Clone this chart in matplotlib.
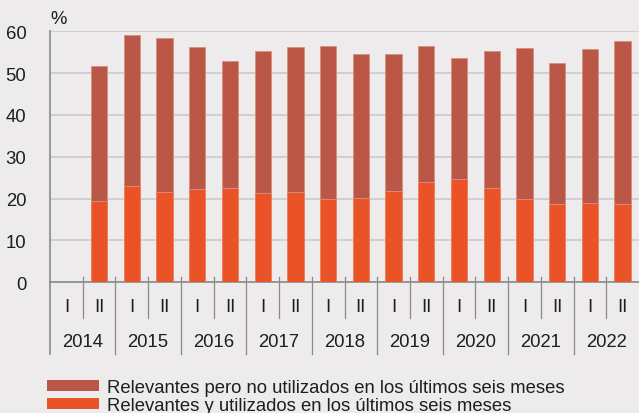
import numpy as np
import matplotlib

matplotlib.use("Agg")
import matplotlib.pyplot as plt
from matplotlib.patches import Patch

plt.rcParams["font.family"] = ["Liberation Sans", "DejaVu Sans"]

# half-year survey waves, 2014 I .. 2022 II
years = ["2014", "2015", "2016", "2017", "2018", "2019", "2020", "2021", "2022"]
halves = ["I", "II"]
# share relevant and used (lower part), % ; 2014 I has no data
used = [np.nan, 19.5, 23.0, 21.7, 22.2, 22.6, 21.3, 21.5, 20.0,
        20.1, 21.8, 23.9, 24.6, 22.5, 19.9, 18.7, 18.9, 18.7]
# total share considered relevant, %
total = [np.nan, 51.6, 59.2, 58.3, 56.2, 52.9, 55.4, 56.2, 56.4,
         54.6, 54.6, 56.6, 53.7, 55.2, 55.9, 52.5, 55.8, 57.8]
lbl_not_used = "Relevantes pero no utilizados en los últimos seis meses"
lbl_used = "Relevantes y utilizados en los últimos seis meses"

BG = "#edebec"
C_UPPER = "#ba5746"
C_LOWER = "#ea5328"
AXC = "#8a8a8a"
TXT = "#1e1e1e"
FS = 13.3

used = np.array(used)
total = np.array(total)
not_used = total - used
n = len(used)
x = np.arange(n) + 0.5

fig = plt.figure(figsize=(6.39, 4.14), dpi=100, facecolor=BG)
ax = fig.add_axes([50 / 639, 1 - 283.3 / 414, 589 / 639, 251 / 414])
ax.set_facecolor(BG)

ax.bar(x, used, width=0.5, color=C_LOWER, edgecolor="#f07a5a", linewidth=0.6, zorder=3)
ax.bar(x, not_used, bottom=used, width=0.5, color=C_UPPER, edgecolor="#d98d80",
       linewidth=0.6, zorder=3)

ax.set_xlim(0, n)
ax.set_ylim(0, 60)
ax.set_yticks(np.arange(0, 61, 10))
ax.tick_params(axis="y", length=0, pad=17, labelsize=FS, labelcolor=TXT)
ax.set_xticks([])
ax.grid(axis="y", color="#c9c7c8", linewidth=1.1, zorder=0)
ax.set_axisbelow(True)
for s in ("top", "right"):
    ax.spines[s].set_visible(False)
for s in ("left", "bottom"):
    ax.spines[s].set_color(AXC)
    ax.spines[s].set_linewidth(1.2)
ax.spines["bottom"].set_zorder(2)

# two-level category axis: half-year dividers and year dividers
tr = ax.get_xaxis_transform()
for b in range(0, n + 1):
    y_low = -0.286 if b % 2 == 0 else -0.142
    if b == 0:
        ax.plot([b, b], [0, y_low], transform=tr, color=AXC, lw=1.2, clip_on=False)
    elif b < n:
        ax.plot([b, b], [0.021, y_low], transform=tr, color=AXC, lw=0.9, clip_on=False)
for i in range(n):
    ax.text(x[i], -0.098, halves[i % 2], transform=tr, ha="center", va="center",
            fontsize=FS, color=TXT)
for k, yr in enumerate(years):
    ax.text(2 * k + 1, -0.234, yr, transform=tr, ha="center", va="center",
            fontsize=FS, color=TXT)

ax.text(0, 1.05, "%", transform=ax.transAxes, ha="left", va="center",
        fontsize=FS, color=TXT)

handles = [Patch(facecolor=C_UPPER, edgecolor="none"),
           Patch(facecolor=C_LOWER, edgecolor="none")]
fig.legend(handles, [lbl_not_used, lbl_used], loc="upper left",
           bbox_to_anchor=(47 / 639, 1 - 380 / 414), frameon=False, fontsize=FS,
           handlelength=2.8, handleheight=0.55, handletextpad=0.45,
           labelspacing=0.05, borderaxespad=0, borderpad=0, labelcolor=TXT)

fig.savefig("out.png", dpi=100, facecolor=BG)
